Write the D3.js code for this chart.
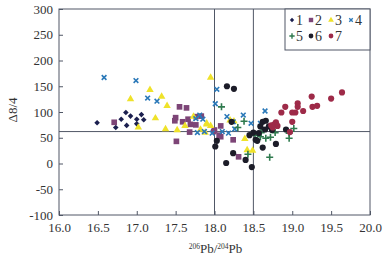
<!DOCTYPE html>
<html>
<head>
<meta charset="utf-8">
<script src="https://cdn.jsdelivr.net/npm/d3@7"></script>
<style>
  body { margin: 0; background: #fff; }
  svg text { font-family: "Liberation Serif", "Times New Roman", "DejaVu Serif", serif !important; fill: #333; }
</style>
</head>
<body>
<div id="chart"></div>
<script>
// groups 1..7, values as [206Pb/204Pb, delta8/4]
var groupNames = ["1", "2", "3", "4", "5", "6", "7"];
var xTicks = [16.0, 16.5, 17.0, 17.5, 18.0, 18.5, 19.0, 19.5, 20.0];
var yTicks = [-100, -50, 0, 50, 100, 150, 200, 250, 300];
var refX = [18.0, 18.5];
var refY = [62];

var g1 = [[16.49,79],[16.73,70],[16.80,86],[16.86,99],[16.92,92],[16.87,74],[17.00,86],[17.06,95],[17.09,85],[17.00,77]];
var g2 = [[16.71,80],[17.55,110],[17.64,108],[17.50,89],[17.49,83],[17.59,81],[17.66,86],[17.76,91],[17.83,92],[17.69,76],
          [17.76,75],[17.68,61],[17.99,62],[17.51,43],[18.08,73],[18.00,65],[18.08,52],[18.24,46],[18.31,13],[18.06,55]];
var g3 = [[17.95,167],[17.17,143],[16.92,125],[17.32,130],[17.39,112],[17.24,88],[17.73,91],[17.90,76],[17.95,73],[17.02,70],
          [17.37,67],[17.52,65],[17.62,73],[17.88,60],[17.82,66],[18.20,84],[18.25,82],[17.90,78],[18.39,48],[18.42,26],[18.49,25]];
var g4 = [[16.58,167],[16.99,161],[17.14,127],[17.26,121],[18.03,144],[18.01,116],[17.81,94],[17.85,86],[17.76,87],[17.78,60],
          [17.87,62],[17.97,59],[18.16,91],[18.37,94],[18.65,102],[18.24,81],[18.59,78],[18.10,62],[18.18,59],[18.26,67],[18.47,78]];
var g5 = [[18.09,110],[18.38,82],[18.52,55],[18.43,18],[18.71,12],[19.02,68],[18.96,49],[18.66,49],[18.59,52],[18.72,51],
          [18.96,59],[18.30,70],[18.60,60],[18.78,60]];
var g6 = [[18.16,150],[18.25,145],[18.22,81],[18.03,44],[18.01,33],[18.24,20],[18.15,1],[18.48,-7],[18.53,46],[18.62,31],
          [18.40,7],[18.79,38],[18.62,81],[18.66,83],[18.70,72],[18.65,66],[18.59,72],[18.57,59],[18.55,44],[18.92,66],
          [18.74,65],[18.50,60],[18.45,55]];
var g7 = [[19.64,138],[19.50,126],[19.25,130],[19.32,112],[19.26,110],[19.07,117],[19.07,110],[18.91,110],[19.14,102],[19.04,99],
          [19.00,99],[18.86,99],[19.00,81],[18.79,80],[18.77,76],[18.81,73],[18.73,74],[18.97,61],[18.75,70]];
var groupData = [g1, g2, g3, g4, g5, g6, g7];

var colors = ["#1b1f4f", "#7d4577", "#efe22a", "#2a78b8", "#2f7a4e", "#1c1c28", "#9e2a48"];
var shapes = [d3.symbolDiamond2 || d3.symbolDiamond, d3.symbolSquare, d3.symbolTriangle, d3.symbolTimes || d3.symbolCross,
              d3.symbolPlus || d3.symbolCross, d3.symbolCircle, d3.symbolCircle];
var sizes = [20, 32, 24, 16, 18, 30, 30];
var strokeOnly = [false, false, false, true, true, false, false];

var W = 383, H = 264;
var margin = {top: 9, right: 13, bottom: 49, left: 59};
var width = W - margin.left - margin.right;
var height = H - margin.top - margin.bottom;

var svg = d3.select("#chart").append("svg")
  .attr("width", W).attr("height", H);
var g = svg.append("g")
  .attr("transform", "translate(" + margin.left + "," + margin.top + ")");

var x = d3.scaleLinear().domain([16, 20]).range([0, width]);
var y = d3.scaleLinear().domain([-100, 300]).range([height, 0]);

var axisColor = "#505766";
var serif = "Liberation Serif, Times New Roman, serif";

// frame
g.append("rect")
  .attr("width", width).attr("height", height)
  .attr("fill", "none").attr("stroke", axisColor).attr("stroke-width", 1);

// x axis, ticks inward
var xAxis = g.append("g")
  .attr("transform", "translate(0," + height + ")")
  .call(d3.axisBottom(x).tickValues(xTicks).tickSize(-4).tickPadding(8).tickFormat(d3.format(".1f")));
xAxis.attr("font-family", serif);
xAxis.select(".domain").remove();
xAxis.selectAll("line").attr("stroke", axisColor);
xAxis.selectAll("text").attr("font-size", 13).style("fill", "#333");

// y axis
var yAxis = g.append("g")
  .call(d3.axisLeft(y).tickValues(yTicks).tickSize(-4).tickPadding(6)
    .tickFormat(function(d) { return d < 0 ? "-" + Math.abs(d) : d; }));
yAxis.attr("font-family", serif);
yAxis.select(".domain").remove();
yAxis.selectAll("line").attr("stroke", axisColor);
yAxis.selectAll("text").attr("font-size", 13).style("fill", "#333");

// reference lines
g.selectAll(".vref").data(refX).enter().append("line")
  .attr("x1", function(d) { return x(d); }).attr("x2", function(d) { return x(d); })
  .attr("y1", 0).attr("y2", height)
  .attr("stroke", axisColor).attr("stroke-width", 1);
g.selectAll(".href").data(refY).enter().append("line")
  .attr("x1", 0).attr("x2", width)
  .attr("y1", function(d) { return y(d); }).attr("y2", function(d) { return y(d); })
  .attr("stroke", axisColor).attr("stroke-width", 1);

// points
groupData.forEach(function(data, i) {
  var sym = d3.symbol().type(shapes[i]).size(sizes[i]);
  g.append("g").selectAll("path")
    .data(data)
    .enter()
    .append("path")
    .attr("d", sym)
    .attr("transform", function(d) { return "translate(" + x(d[0]) + "," + y(d[1]) + ")"; })
    .attr("fill", strokeOnly[i] ? "none" : colors[i])
    .attr("stroke", strokeOnly[i] ? colors[i] : "none")
    .attr("stroke-width", strokeOnly[i] ? 1.6 : 0);
});

// legend box in top right corner
var legW = 85, legH = 41;
var leg = g.append("g").attr("transform", "translate(" + (width - legW) + ",0)");
leg.append("rect")
  .attr("width", legW).attr("height", legH)
  .attr("fill", "#fff").attr("stroke", axisColor).attr("stroke-width", 1);
var legPos = [[7, 11], [26, 11], [46, 11], [66, 11], [7, 27], [26, 27], [46, 27]];
groupNames.forEach(function(name, i) {
  var it = leg.append("g").attr("transform", "translate(" + legPos[i][0] + "," + legPos[i][1] + ")");
  it.append("path")
    .attr("d", d3.symbol().type(shapes[i]).size(sizes[i] * 0.6))
    .attr("fill", strokeOnly[i] ? "none" : colors[i])
    .attr("stroke", strokeOnly[i] ? colors[i] : "none")
    .attr("stroke-width", strokeOnly[i] ? 1.4 : 0);
  it.append("text")
    .attr("x", 4).attr("y", 4.5)
    .attr("font-family", serif)
    .attr("font-size", 14)
    .text(name);
});

// axis labels
var xl = svg.append("text")
  .attr("x", margin.left + width / 2 + 1)
  .attr("y", 253)
  .attr("text-anchor", "middle")
  .attr("font-family", serif)
  .attr("font-size", 13);
xl.append("tspan").attr("font-size", 7.5).attr("dy", -4).text("206");
xl.append("tspan").attr("dy", 4).text("Pb/");
xl.append("tspan").attr("font-size", 7.5).attr("dy", -4).text("204");
xl.append("tspan").attr("dy", 4).text("Pb");

svg.append("text")
  .attr("transform", "translate(17,110) rotate(-90)")
  .attr("text-anchor", "middle")
  .attr("font-family", serif)
  .attr("font-size", 13)
  .text("Δ8/4");
</script>
</body>
</html>
